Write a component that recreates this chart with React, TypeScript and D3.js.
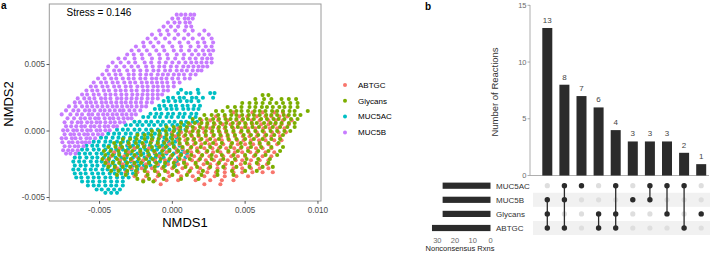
import React, { useEffect } from 'react';
import * as d3 from 'd3';

// ---------- Panel a: NMDS scores (units of 1e-4), rows of [NMDS2, [NMDS1 ...]] ----------
const groupNames = ['ABTGC', 'Glycans', 'MUC5AC', 'MUC5B'];
const groupColors = ['#F8766D', '#7CAE00', '#00BFC4', '#C77CFF'];

const muc5bRows: [number, number[]][] = [
  [-17, [-73, -70, -66.5]],
  [-14.5, [-75, -71.5, -68.5, -65]],
  [-11.5, [-74, -70.5, -67, -64.5, -61]],
  [-8.5, [-75.5, -71, -68.5, -65, -62, -59.5, -57]],
  [-5.5, [-76, -73, -69, -66.5, -63, -59, -56.5, -53]],
  [-2.5, [-74, -70, -67.5, -64, -60.5, -58, -54.5, -51, -48]],
  [0.5, [-75, -72, -68, -65.5, -62, -58.5, -56, -52, -49.5, -46, -43]],
  [3.5, [-73, -69.5, -66, -62.5, -60, -56, -53.5, -50, -46.5, -44, -40.5, -38]],
  [6.5, [-74, -69, -65, -62.5, -58.5, -55.5, -52, -49.5, -46, -42.5, -39.5, -36, -33]],
  [9.5, [-72, -67.5, -63, -60, -56.5, -53, -50.5, -46.5, -43, -40.5, -37, -33.5, -30.5, -28]],
  [12.5, [-76, -70, -65.5, -62, -57.5, -55, -51, -47.5, -44.5, -41, -38, -34.5, -31.5, -28, -25]],
  [15.5, [-73, -68, -64.5, -60, -57, -53.5, -49.5, -46.5, -43, -39.5, -36, -33.5, -29.5, -26, -22]],
  [18.5, [-71, -66.5, -62, -58.5, -55, -51.5, -48, -44.5, -41, -38, -34.5, -31, -28, -24.5, -21, -18]],
  [21.5, [-67, -63.5, -59, -56, -52.5, -48.5, -45.5, -42, -38.5, -35, -32, -28.5, -25, -21.5, -17.5, -14]],
  [24.5, [-65, -60.5, -57, -53.5, -49, -46, -42.5, -38, -35, -31.5, -28, -24.5, -21, -17, -13.5, -10]],
  [27.5, [-62, -58.5, -54, -50.5, -46, -42.5, -39, -35, -31.5, -27.5, -24, -20.5, -17, -13.5, -10, -7]],
  [30.5, [-59, -55, -51.5, -47, -43.5, -39, -35.5, -32, -28, -24.5, -20, -17, -13.5, -10, -6, -3]],
  [33.5, [-56, -52.5, -48, -44.5, -40, -36.5, -32, -28.5, -24, -20.5, -17, -13, -10, -6.5, -3, 1]],
  [36.5, [-54, -49, -45.5, -41, -37.5, -33, -29, -25.5, -21, -17.5, -14, -10.5, -7, -3.5, 1, 5]],
  [39.5, [-51, -46.5, -42, -38.5, -34, -30, -26.5, -22, -18.5, -14, -11, -7.5, -4, 0, 4, 8.5, 12]],
  [42.5, [-48, -43.5, -39, -35.5, -30, -26.5, -22, -18, -14.5, -10, -6.5, -3, 1, 4.5, 8, 12.5, 16]],
  [45.5, [-45, -40, -36.5, -31, -26.5, -22, -17.5, -13, -9.5, -5, -1.5, 3, 6.5, 10, 14, 17.5, 20]],
  [48.5, [-44, -38.5, -33, -28, -23.5, -18, -13.5, -9, -5.5, -1, 3, 7.5, 11, 14.5, 18, 21, 24]],
  [51.5, [-41, -35.5, -30, -25.5, -19, -14.5, -9, -4.5, 0, 4.5, 9, 13, 16.5, 20, 23.5, 27]],
  [54.5, [-37, -32.5, -26, -20.5, -14, -8.5, -3, 2, 7.5, 12, 16, 20.5, 24, 27]],
  [57.5, [-31, -26.5, -21, -15.5, -9, -3.5, 3, 8, 13.5, 18, 22, 26]],
  [60.5, [-28, -23, -17.5, -11, -5.5, 1, 6, 11.5, 16, 21, 25, 28]],
  [63.5, [-25, -19.5, -13, -6.5, 0, 6, 12.5, 18, 23, 27]],
  [66.5, [-20, -15, -9.5, -2, 5, 11, 17.5, 22, 28]],
  [69.5, [-17, -11.5, -5, 1.5, 8, 14, 21, 27]],
  [72.5, [-14, -8, -2.5, 4, 11, 18.5, 25]],
  [75.5, [-9, -3.5, 2, 8.5, 14, 22]],
  [78.5, [-6, -1, 4, 9.5, 13]],
  [81.5, [-3, 1.5, 5, 9, 12]],
  [84.5, [0, 4, 8.5, 11, 14]],
  [87.5, [3, 6, 9, 12.5, 15]],
];

const muc5acRows: [number, number[]][] = [
  [31, [6, 17.5]],
  [28.5, [4, 9.5, 12.5, 18, 26, 29]],
  [25, [-3, 0.5, 5, 8, 13.5, 16.5, 21, 28]],
  [22.5, [-6, -2.5, 2, 5.5, 10, 13, 18]],
  [19, [-9, -5.5, -1, 2.5, 7, 10.5, 15, 19]],
  [16.5, [-12, -8.5, -4, -0.5, 3, 7.5, 11, 14.5, 18]],
  [13, [-15, -11, -7.5, -3, 0.5, 5, 8.5, 13, 16.5]],
  [10.5, [-20, -16.5, -12, -8.5, -4, -0.5, 4, 7.5, 12, 16]],
  [7, [-26, -22.5, -18, -14.5, -10, -6.5, -2, 1.5, 6, 9.5, 14, 17]],
  [4.5, [-32, -28.5, -24, -20.5, -16, -12.5, -8, -4.5, 0, 3.5, 8, 12]],
  [1, [-38, -34, -30.5, -26, -22.5, -18, -14.5, -10, -6.5, -2, 1.5, 5.5, 9]],
  [-2, [-44, -40, -36.5, -32, -28.5, -24, -20, -16.5, -12, -8.5, -4, -0.5, 4]],
  [-5, [-49, -45.5, -41, -37, -33.5, -29, -25.5, -21, -17, -13.5, -9, -5.5, -1, 3]],
  [-8, [-54, -50.5, -46, -42.5, -38, -34, -30.5, -26, -22.5, -18, -14.5, -10, -6, -2.5, 2]],
  [-11, [-59, -55, -51.5, -47, -43.5, -39, -35.5, -31, -27, -23.5, -19, -15.5, -11, -7, -3.5, 1, 5]],
  [-14, [-62, -58.5, -54, -50.5, -46, -42, -38.5, -34, -30.5, -26, -22, -18.5, -14, -10.5, -6, -2, 3, 7]],
  [-17, [-64, -60, -56.5, -52, -48.5, -44, -40, -36.5, -32, -28.5, -24, -20, -16.5, -12, -8.5, -4, 1, 6, 10]],
  [-20, [-67, -63.5, -59, -55, -51.5, -47, -43.5, -39, -35, -31.5, -27, -23.5, -19, -15, -11.5, -6, -1, 4, 9]],
  [-23, [-68, -64, -60.5, -56, -52, -48.5, -44, -40.5, -36, -32, -28.5, -24, -20.5, -16, -12, -8.5, -3, 3, 8]],
  [-26, [-67, -63, -59.5, -55, -51.5, -47, -43, -39.5, -35, -31.5, -27, -23, -19.5, -15, -10, -5, 2]],
  [-29, [-68, -64.5, -60, -56, -52.5, -48, -44.5, -40, -36, -32.5, -28, -24, -19]],
  [-32, [-67, -63, -59.5, -55, -51, -47.5, -43, -39.5, -35, -31, -27]],
  [-35, [-66, -62.5, -58, -54, -50.5, -46, -42.5, -38, -34, -30]],
  [-38, [-62, -58, -54.5, -50, -46.5, -42, -38, -34]],
  [-41, [-58, -54, -50.5, -46, -42, -38.5, -34]],
  [-44, [-52, -48.5, -44, -40, -36]],
  [-46.5, [-46, -42, -38]],
];

const abtgcRows: [number, number[]][] = [
  [14, [42, 55, 62, 70, 76]],
  [11, [30, 36, 46, 51.5, 58, 64, 68, 73.5, 79]],
  [8, [20, 26, 31.5, 38, 44, 48, 54.5, 60, 66, 71, 76, 82]],
  [5, [12, 18.5, 24, 29, 34.5, 40, 45, 50.5, 55, 61, 66, 70.5, 75, 80]],
  [2, [4, 10, 15.5, 21, 26, 31.5, 36, 42, 47.5, 52, 57, 62.5, 67, 72, 77]],
  [-1, [0, 6, 12, 17.5, 22, 27, 32.5, 37, 42, 47, 52.5, 58, 63, 68.5, 73, 78]],
  [-4, [-8, 2, 8, 13.5, 18, 23, 28, 33.5, 38, 43, 48.5, 53, 58, 63.5, 68, 74]],
  [-7, [-14, -4, 4, 9, 14.5, 19, 24, 29.5, 34, 39, 44.5, 49, 54, 59.5, 64, 70, 75]],
  [-10, [-30, -20, -10, -2, 5, 10.5, 15, 20, 25.5, 30, 35, 40.5, 45, 50, 55.5, 60, 66, 72]],
  [-13, [-36, -26, -16, -6, 2, 7, 12.5, 17, 22, 27.5, 32, 37, 42.5, 47, 52, 57.5, 62, 68]],
  [-16, [-40, -30, -22, -12, -4, 3, 8.5, 13, 18, 23.5, 28, 33, 38.5, 43, 48, 53.5, 58, 64, 70]],
  [-19, [-42, -33, -25, -17, -9, -1, 5, 10.5, 15, 20, 25.5, 30, 35, 40.5, 45, 50, 56, 62, 68]],
  [-22, [-45, -36, -28, -20, -12, -5, 2, 8, 13.5, 18, 23, 28.5, 33, 38, 43.5, 48, 54, 60, 66]],
  [-25, [-44, -34, -26, -18, -10, -3, 4, 10, 16, 21.5, 26, 31, 36.5, 41, 47, 53, 59, 65]],
  [-28, [-38, -28, -21, -14, -7, 0, 7, 13, 19, 25, 31, 36, 42, 48, 54, 60, 66]],
  [-31, [-32, -24, -17, -10, -3, 4, 11, 18, 24, 30, 36, 42, 48, 55, 62, 69]],
  [-34, [-26, -18, -10, -2, 6, 14, 22, 29, 36, 44, 52]],
  [-37, [-20, -12, -4, 4, 16, 26, 34, 42]],
  [-40, [-8, 22, 33]],
];

const glycansRows: [number, number[]][] = [
  [27, [62, 66]],
  [24, [57, 63, 68, 75, 80, 85]],
  [21, [48, 53, 57.5, 62, 67, 71.5, 76, 81, 86]],
  [18, [38, 43, 47.5, 53, 57, 61.5, 65, 69, 73.5, 77, 81, 86]],
  [15, [30, 34.5, 40, 44, 47.5, 52, 56.5, 60, 64, 68.5, 72, 76, 80.5, 84, 93]],
  [12, [22, 27, 31.5, 36, 40.5, 44, 48, 52.5, 56, 60, 64.5, 68, 72, 76.5, 80, 84, 88]],
  [9, [14, 19, 23.5, 28, 32, 36.5, 40, 44, 48.5, 52, 56, 61, 65, 69.5, 73, 77, 81.5, 86]],
  [6, [6, 11, 15.5, 20, 24, 28.5, 33, 37, 41.5, 46, 50, 54.5, 58, 63, 67.5, 71, 75, 80, 84]],
  [3, [-4, 1, 5.5, 10, 14, 19, 23.5, 28, 32, 36.5, 41, 45, 50, 55, 59.5, 64, 69, 74, 79, 84]],
  [0, [-14, -9, -4.5, 1, 5, 9.5, 14, 18, 23, 27.5, 32, 37, 42, 47.5, 52, 57, 62, 67.5, 72, 77, 81]],
  [-3, [-24, -19, -14.5, -9, -4, 0, 4.5, 9, 13, 18, 23, 28.5, 33, 38, 43, 49, 54, 59, 64.5, 70, 76]],
  [-6, [-34, -29, -24.5, -19, -14, -9.5, -4, 0, 5, 10.5, 15, 20, 26, 32, 38.5, 44, 50, 56, 62, 68, 74]],
  [-9, [-40, -35.5, -30, -25, -20.5, -15, -10, -5.5, 0, 5, 10, 16, 22.5, 28, 34, 41, 47, 53.5, 60, 66, 73]],
  [-12, [-44, -39, -34.5, -29, -24, -19.5, -14, -9, -4.5, 1, 7, 13, 19.5, 26, 33, 40, 47.5, 54, 61, 68, 76]],
  [-15, [-47, -42.5, -37, -32, -27.5, -22, -17, -12.5, -7, -2, 4, 10.5, 17, 24, 31, 38.5, 45, 52, 59, 66, 74]],
  [-18, [-46, -41, -36.5, -31, -26, -21.5, -16, -11, -6.5, 0, 6, 13, 20.5, 27, 34, 42, 50, 57, 64, 72]],
  [-21, [-48, -43.5, -38, -33, -28.5, -23, -18, -13.5, -8, -2, 5, 12, 19, 27, 35, 43, 51, 59, 67]],
  [-24, [-46, -41, -36.5, -31, -26, -21.5, -16, -11, -5, 1, 8, 16, 24, 32, 41, 50, 58, 66]],
  [-27, [-44, -39.5, -34, -29, -24.5, -18, -12, -6, 1, 9, 17, 26, 35, 44, 53, 62, 69]],
  [-30, [-42, -37, -31, -25, -19, -12, -5, 3, 12, 21, 31, 41, 50, 58]],
  [-33, [-38, -32, -25, -17, -9, 0, 10, 20, 31, 42]],
  [-36, [-24, -16, -6, 6, 18]],
  [-38, [-20, -13]],
];

const nmdsXTicks = [-0.005, 0, 0.005, 0.01];
const nmdsXTickLabels = ['-0.005', '0.000', '0.005', '0.010'];
const nmdsYTicks = [-0.005, 0, 0.005];
const nmdsYTickLabels = ['-0.005', '0.000', '0.005'];
const stressLabel = 'Stress = 0.146';

// ---------- Panel b: UpSet ----------
const setNames = ['MUC5AC', 'MUC5B', 'Glycans', 'ABTGC'];
const setSizes = [27, 27, 27, 33];
const intersectionCounts = [13, 8, 7, 6, 4, 3, 3, 3, 2, 1];
const intersectionMembers: string[][] = [
  ['MUC5B', 'Glycans', 'ABTGC'],
  ['MUC5AC', 'MUC5B', 'ABTGC'],
  ['MUC5AC'],
  ['Glycans', 'ABTGC'],
  ['MUC5AC', 'Glycans', 'ABTGC'],
  ['MUC5B'],
  ['MUC5AC', 'MUC5B'],
  ['MUC5AC', 'Glycans'],
  ['MUC5AC', 'ABTGC'],
  ['Glycans'],
];
const barTicks = [0, 5, 10, 15];
const sizeTicks = [30, 20, 10, 0];

const FONT = '"Liberation Sans", Arial, Helvetica, sans-serif';
const DARK = '#2b2b2b';

type Pt = { x: number; y: number; g: number };

function flatten(rows: [number, number[]][], g: number): Pt[] {
  const out: Pt[] = [];
  rows.forEach(([y, xs]) => xs.forEach((x) => out.push({ x: x / 1e4, y: y / 1e4, g })));
  return out;
}

export default function App() {
  useEffect(() => {
    document.body.style.margin = '0';
  }, []);

  const x = d3.scaleLinear().domain([-0.00845, 0.01021]).range([49.3, 321]);
  const y = d3.scaleLinear().domain([-0.005263, 0.009549]).range([201, 4]);

  const teal = flatten(muc5acRows, 2);
  const purple = flatten(muc5bRows, 3);
  const red = flatten(abtgcRows, 0);
  const green = flatten(glycansRows, 1);
  const mixed: Pt[] = [];
  const n = Math.max(red.length, green.length);
  for (let i = 0; i < n; i++) {
    if (i < red.length) mixed.push(red[i]);
    if (i < green.length) mixed.push(green[i]);
  }
  const points = [...teal, ...purple, ...mixed];

  const xb = d3
    .scaleBand<number>()
    .domain(intersectionCounts.map((_, i) => i))
    .range([538.75, 709.75])
    .paddingInner(0.415)
    .paddingOuter(0.2075);
  const yb = d3.scaleLinear().domain([0, 15]).range([175.5, 5.3]);
  const rowY = d3.scalePoint<string>().domain(setNames).range([185.7, 228]);
  const xs = d3.scaleLinear().domain([0, 30]).range([490.5, 437.3]);
  const bw = xb.bandwidth();

  return (
    <svg width={720} height={254} style={{ position: 'absolute', left: 0, top: 0, background: '#fff' }} fontFamily={FONT}>
      <rect x={0} y={0} width={720} height={254} fill="#fff" />
      {/* ---------- panel a ---------- */}
      <text x={1} y={8.5} fontSize={10} fontWeight="bold" fill="#000">a</text>
      <g>
        {points.map((p, i) => (
          <circle key={i} cx={x(p.x)} cy={y(p.y)} r={2.05} fill={groupColors[p.g]} />
        ))}
      </g>
      <rect x={49.3} y={4} width={321 - 49.3} height={197} fill="none" stroke="#9a9a9a" strokeWidth={1} />
      <text x={66.5} y={16} fontSize={10} fill="#000">{stressLabel}</text>
      {nmdsXTicks.map((t, i) => (
        <g key={'xt' + i}>
          <line x1={x(t)} x2={x(t)} y1={201} y2={203.8} stroke="#333" strokeWidth={0.8} />
          <text x={x(t)} y={213} fontSize={8.2} textAnchor="middle" fill="#4d4d4d">{nmdsXTickLabels[i]}</text>
        </g>
      ))}
      {nmdsYTicks.map((t, i) => (
        <g key={'yt' + i}>
          <line x1={46.5} x2={49.3} y1={y(t)} y2={y(t)} stroke="#333" strokeWidth={0.8} />
          <text x={45} y={y(t)} dy="0.35em" fontSize={8.2} textAnchor="end" fill="#4d4d4d">{nmdsYTickLabels[i]}</text>
        </g>
      ))}
      <text x={185} y={227} fontSize={13} textAnchor="middle" fill="#000">NMDS1</text>
      <text transform="translate(13,104) rotate(-90)" fontSize={13} textAnchor="middle" fill="#000">NMDS2</text>
      {groupNames.map((g, i) => (
        <g key={'lg' + i}>
          <circle cx={345} cy={85 + i * 15.8} r={2} fill={groupColors[i]} />
          <text x={358} y={85 + i * 15.8} dy="0.35em" fontSize={8} fill="#000">{g}</text>
        </g>
      ))}

      {/* ---------- panel b ---------- */}
      <text x={425} y={10} fontSize={10} fontWeight="bold" fill="#000">b</text>
      <line x1={530} x2={530} y1={5} y2={175.5} stroke="#9a9a9a" strokeWidth={0.8} />
      <line x1={530} x2={709} y1={175.5} y2={175.5} stroke="#9a9a9a" strokeWidth={0.8} />
      {barTicks.map((t) => (
        <g key={'bt' + t}>
          <line x1={527.5} x2={530} y1={yb(t)} y2={yb(t)} stroke="#9a9a9a" strokeWidth={0.8} />
          <text x={526.5} y={yb(t)} dy="0.35em" fontSize={7.5} textAnchor="end" fill="#6b6b6b">{t}</text>
        </g>
      ))}
      <text transform="translate(497.5,92) rotate(-90)" fontSize={9.5} textAnchor="middle" fill="#333">Number of Reactions</text>
      {intersectionCounts.map((c, i) => (
        <g key={'bar' + i}>
          <rect x={xb(i)} y={yb(c)} width={bw} height={yb(0) - yb(c)} fill={DARK} />
          <text x={(xb(i) as number) + bw / 2} y={yb(c) - 5} fontSize={8} textAnchor="middle" fill="#444">{c}</text>
        </g>
      ))}
      {setNames.map((s, j) =>
        j % 2 === 1 ? (
          <rect key={'sh' + s} x={533} y={(rowY(s) as number) - 7} width={177} height={14} fill="#f1f1f1" />
        ) : null
      )}
      {intersectionMembers.map((mem, i) => {
        const cx = (xb(i) as number) + bw / 2;
        const ys = mem.map((m) => rowY(m) as number);
        return (
          <g key={'m' + i}>
            {setNames.map((s) => (
              <circle key={s} cx={cx} cy={rowY(s)} r={2.6} fill="#dedede" />
            ))}
            {ys.length > 1 && (
              <line x1={cx} x2={cx} y1={d3.min(ys)} y2={d3.max(ys)} stroke={DARK} strokeWidth={1.3} />
            )}
            {ys.map((yy, k) => (
              <circle key={'a' + k} cx={cx} cy={yy} r={2.7} fill={DARK} />
            ))}
          </g>
        );
      })}
      {setNames.map((s, j) => (
        <g key={'ss' + s}>
          <rect x={xs(setSizes[j])} y={(rowY(s) as number) - 3.1} width={xs(0) - xs(setSizes[j])} height={6.2} fill={DARK} />
          <text x={496} y={rowY(s)} dy="0.35em" fontSize={8} fill="#333">{s}</text>
        </g>
      ))}
      {sizeTicks.map((t) => (
        <text key={'st' + t} x={xs(t)} y={242.5} fontSize={7.5} textAnchor="middle" fill="#6b6b6b">{t}</text>
      ))}
      <text x={460} y={251} fontSize={7.5} textAnchor="middle" fill="#222">Nonconsensus Rxns</text>
    </svg>
  );
}
